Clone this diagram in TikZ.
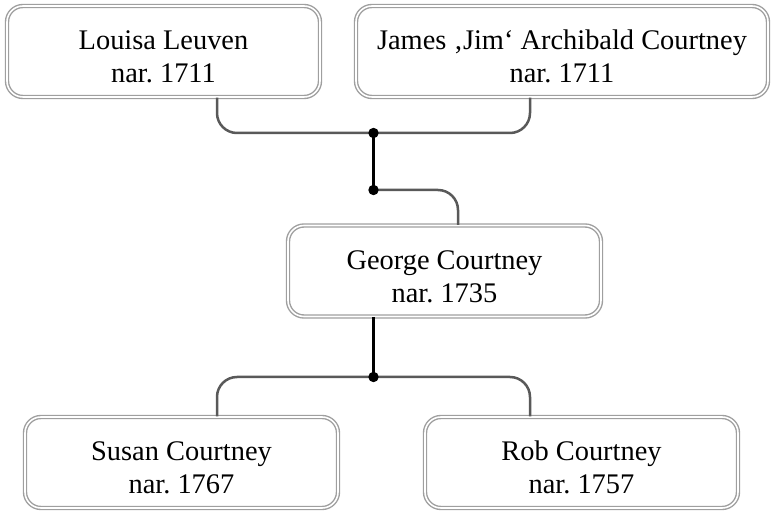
\documentclass[tikz,border=0pt]{standalone}
\usepackage{fontspec}
\setmainfont{Liberation Serif}
\usetikzlibrary{calc}
\newcommand{\persontext}[2]{\rule{0pt}{15pt}#1\\nar. #2}

\begin{document}
\frenchspacing
\begin{tikzpicture}[x=0.5pt, y=-0.5pt,
    personbox/.style={rectangle, rounded corners=8pt, draw=gray!75, double=white,
      line width=0.7pt, double distance=0.8pt, align=center, inner sep=0pt,
      minimum width=156.5pt, minimum height=45.5pt,
      font=\fontsize{14.2}{16.5}\selectfont},
    famline/.style={draw=black!65, line width=1.25pt, rounded corners=10pt},
    bondline/.style={draw=black, line width=1.25pt},
    famdot/.style={circle, fill=black, inner sep=0pt, minimum size=5.2pt}]
    \useasboundingbox (0,0) rectangle (773,513);

    \node[personbox] (louisa) at (163.5,51.5) {\persontext{Louisa Leuven}{1711}};
    \node[personbox, minimum width=206pt] (james) at (562,51.5) {\persontext{James ‚Jim‘ Archibald Courtney}{1711}};
    \node[personbox] (george) at (444.5,271) {\persontext{George Courtney}{1735}};
    \node[personbox] (susan) at (181.5,462.5) {\persontext{Susan Courtney}{1767}};
    \node[personbox] (rob) at (581.5,462.5) {\persontext{Rob Courtney}{1757}};

    \coordinate (parents) at (373.5,133);
    \coordinate (family) at (373.5,190);
    \coordinate (kids) at (373.5,377);

    \draw[famline] (louisa.south -| 217,0) |- (parents) -| (james.south -| 530,0);
    \draw[famline] (family) -| (george.north -| 458,0);
    \draw[famline] (susan.north -| 217,0) |- (kids) -| (rob.north -| 530,0);
    \draw[bondline] (parents) -- (family);
    \draw[bondline] (george.south -| kids) -- (kids);

    \node[famdot] (d1) at (parents) {};
    \node[famdot] (d2) at (family) {};
    \node[famdot] (d3) at (kids) {};
  \end{tikzpicture}
\end{document}
